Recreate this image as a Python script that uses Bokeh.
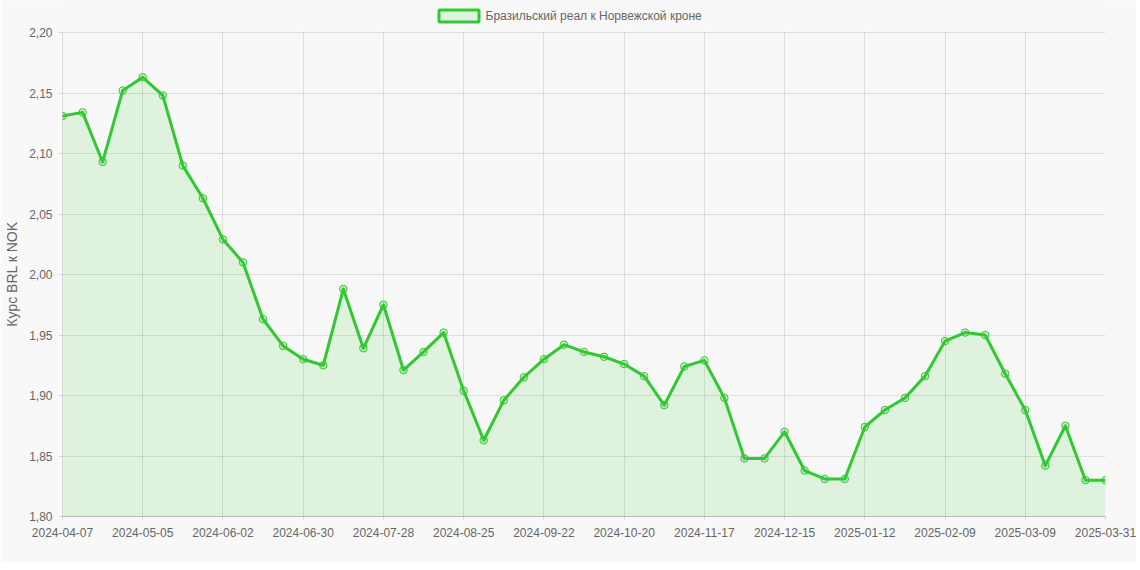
from bokeh.plotting import figure
from bokeh.models import (Range1d, FixedTicker, CustomJSTickFormatter, BoxAnnotation, Label,
                          ColumnDataSource)
from bokeh.embed import file_html
from bokeh.resources import INLINE

# ---- data ----
series_name = "Бразильский реал к Норвежской кроне"
y_title = "Курс BRL к NOK"
rates = [2.131, 2.134, 2.093, 2.152, 2.163, 2.148, 2.090, 2.063, 2.029, 2.010,
         1.963, 1.941, 1.930, 1.925, 1.988, 1.939, 1.975, 1.921, 1.936, 1.952,
         1.904, 1.863, 1.896, 1.915, 1.930, 1.942, 1.936, 1.932, 1.926, 1.916,
         1.892, 1.924, 1.929, 1.898, 1.848, 1.848, 1.870, 1.838, 1.831, 1.831,
         1.874, 1.888, 1.898, 1.916, 1.945, 1.952, 1.950, 1.918, 1.888, 1.842,
         1.875, 1.830, 1.830]
tick_positions = [0, 4, 8, 12, 16, 20, 24, 28, 32, 36, 40, 44, 48, 52]
tick_labels = ["2024-04-07", "2024-05-05", "2024-06-02", "2024-06-30", "2024-07-28",
               "2024-08-25", "2024-09-22", "2024-10-20", "2024-11-17", "2024-12-15",
               "2025-01-12", "2025-02-09", "2025-03-09", "2025-03-31"]
y_ticks = [1.80, 1.85, 1.90, 1.95, 2.00, 2.05, 2.10, 2.15, 2.20]
y_min, y_max = 1.80, 2.20

# ---- layout constants ----
W, H = 1136, 562
FRAME_L, FRAME_R, PLOT_TOP, FRAME_B = 62, 1105, 32, 516   # pixel layout
frame_h = FRAME_B                                          # frame reaches the top edge
y_top = y_max + (y_max - y_min) * PLOT_TOP / (FRAME_B - PLOT_TOP)

x = list(range(len(rates)))
src = ColumnDataSource(dict(x=x, y=rates, base=[y_min] * len(rates)))

GREEN = "#32c832"
BG = "#f8f8f8"
FONT = "Liberation Sans"
TXT = "#666666"

p = figure(width=W, height=H, output_backend="svg", toolbar_location=None,
           x_range=Range1d(0, len(rates) - 1), y_range=Range1d(y_min, y_top),
           min_border_left=FRAME_L, min_border_right=W - FRAME_R,
           min_border_top=0, min_border_bottom=H - FRAME_B)
p.background_fill_color = BG
p.border_fill_color = BG
p.outline_line_color = None

p.varea(x="x", y1="base", y2="y", source=src, fill_color=GREEN, fill_alpha=0.13)
p.line(x="x", y="y", source=src, line_color=GREEN, line_width=3, line_join="round")
p.scatter(x="x", y="y", source=src, marker="circle", size=7.5,
          fill_color=GREEN, fill_alpha=0.2, line_color=GREEN, line_width=1)

# y axis line drawn only over the value range
p.segment(x0=[0], y0=[y_min], x1=[0], y1=[y_max], line_color="#000000", line_alpha=0.25,
          line_width=1)

# axes
p.xaxis.ticker = FixedTicker(ticks=tick_positions)
p.xaxis.major_label_overrides = {pos: lab for pos, lab in zip(tick_positions, tick_labels)}
p.yaxis.ticker = FixedTicker(ticks=y_ticks)
p.yaxis.formatter = CustomJSTickFormatter(code="return tick.toFixed(2).replace('.', ',');")
# trailing no-break spaces re-centre the title on the 1.80–2.20 band
p.yaxis.axis_label = y_title + "\u00a0" * 8
p.yaxis.axis_label_text_font = FONT
p.yaxis.axis_label_text_font_size = "14px"
p.yaxis.axis_label_text_font_style = "normal"
p.yaxis.axis_label_text_color = TXT
p.yaxis.axis_label_standoff = 6

for ax in (p.xaxis, p.yaxis):
    ax.major_label_text_font = FONT
    ax.major_label_text_font_size = "12px"
    ax.major_label_text_color = TXT
    ax.major_tick_line_color = "#000000"
    ax.major_tick_line_alpha = 0.12
    ax.major_tick_in = 0
    ax.major_tick_out = 4
    ax.minor_tick_line_color = None
    ax.major_label_standoff = 6
p.xaxis.axis_line_color = "#000000"
p.xaxis.axis_line_alpha = 0.25
p.yaxis.axis_line_color = None
p.xaxis.major_label_standoff = 7

p.xgrid.grid_line_color = "#000000"
p.xgrid.grid_line_alpha = 0.1
p.ygrid.grid_line_color = "#000000"
p.ygrid.grid_line_alpha = 0.1

# blank the strip above the value range (legend area)
p.add_layout(BoxAnnotation(bottom=y_max + (y_top - y_max) * 0.05, fill_color=BG, fill_alpha=1,
                           line_color=None))

# legend: swatch + text (screen units relative to the frame, y measured from its bottom)
sw_l, sw_t, sw_w, sw_h = 438.5, 9.5, 40, 12
p.add_layout(BoxAnnotation(left=sw_l - FRAME_L, right=sw_l + sw_w - FRAME_L,
                           bottom=frame_h - (sw_t + sw_h), top=frame_h - sw_t,
                           left_units="screen", right_units="screen",
                           bottom_units="screen", top_units="screen",
                           fill_color=GREEN, fill_alpha=0.13,
                           line_color=GREEN, line_width=3, line_alpha=1))
p.add_layout(Label(x=485 - FRAME_L, y=frame_h - 15.5, x_units="screen", y_units="screen",
                   text=series_name, text_font=FONT, text_font_size="12px",
                   text_color=TXT, text_align="left", text_baseline="middle"))

html = file_html(p, INLINE)
html = html.replace("<body>", '<body style="background:%s">' % BG, 1)
open("out.html", "w").write(html)
